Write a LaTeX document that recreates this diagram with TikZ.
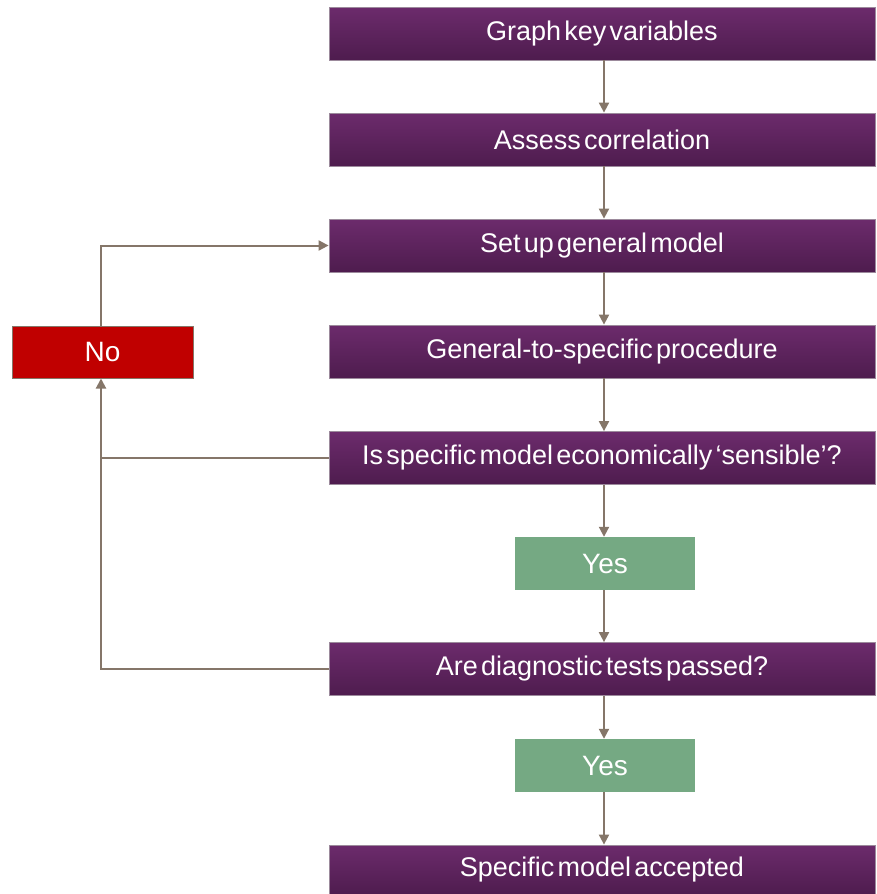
\documentclass[tikz,border=0pt]{standalone}
\usepackage{fontspec}
\setmainfont{Liberation Sans}
\usetikzlibrary{arrows.meta}
\definecolor{purpTop}{HTML}{6C2B6C}
\definecolor{purpBot}{HTML}{4E1C4E}
\definecolor{purpEdge}{HTML}{9C8A9C}
\definecolor{noRed}{HTML}{C00000}
\definecolor{yesGreen}{HTML}{75A983}
\definecolor{arrowCol}{HTML}{857669}
\newcommand\boxfont{\fontsize{27}{30}\selectfont\spaceskip 0.12em\relax}
\newcommand\tagfont{\fontsize{28}{30}\selectfont}
\tikzset{
  pbox/.style={rectangle, minimum width=546pt, minimum height=53pt, inner sep=0pt,
    top color=purpTop, bottom color=purpBot, draw=purpEdge, line width=0.8pt,
    text=white, font=\boxfont},
  ybox/.style={rectangle, minimum width=180pt, minimum height=53pt, inner sep=0pt,
    fill=yesGreen, text=white, font=\tagfont},
  nbox/.style={rectangle, minimum width=181pt, minimum height=52pt, inner sep=0pt,
    fill=noRed, draw=arrowCol, line width=1pt, text=white, font=\tagfont},
  conn/.style={draw=arrowCol, line width=2pt, -{Triangle[length=10pt,width=10pt]}},
  plain/.style={draw=arrowCol, line width=2pt}
}
\begin{document}
\begin{tikzpicture}[x=1pt,y=-1pt]
\useasboundingbox (0,0) rectangle (876,894);
\node[pbox] (b1) at (602,33.5) {Graph key variables};
\node[pbox] (b2) at (602,139.5) {Assess correlation};
\node[pbox] (b3) at (602,245.5) {Set up general model};
\node[pbox] (b4) at (602,351.5) {General-to-specific procedure};
\node[pbox] (b5) at (602,458) {Is specific model economically ‘sensible’?};
\node[ybox] (y1) at (605,563.5) {Yes};
\node[pbox] (b6) at (602,669) {Are diagnostic tests passed?};
\node[ybox] (y2) at (605,765.5) {Yes};
\node[pbox, minimum height=50pt] (b7) at (602,870) {Specific model accepted};
\node[nbox] (no) at (102.5,352) {No};
\coordinate (c1) at (101,245.5);
\coordinate (c2) at (101,458);
\coordinate (c3) at (101,669);
\draw[conn] (b1.south -| 604,0) -- (b2.north -| 604,0);
\draw[conn] (b2.south -| 604,0) -- (b3.north -| 604,0);
\draw[conn] (b3.south -| 604,0) -- (b4.north -| 604,0);
\draw[conn] (b4.south -| 604,0) -- (b5.north -| 604,0);
\draw[conn] (b5.south -| 604,0) -- (y1.north -| 604,0);
\draw[conn] (y1.south -| 604,0) -- (b6.north -| 604,0);
\draw[conn] (b6.south -| 604,0) -- (y2.north -| 604,0);
\draw[conn] (y2.south -| 604,0) -- (b7.north -| 604,0);
\draw[conn] (no.north -| c1) -- (c1) -- (b3.west);
\draw[plain] (b5.west) -- (c2);
\draw[conn] (b6.west) -- (c3) -- (no.south -| c3);
\end{tikzpicture}
\end{document}
